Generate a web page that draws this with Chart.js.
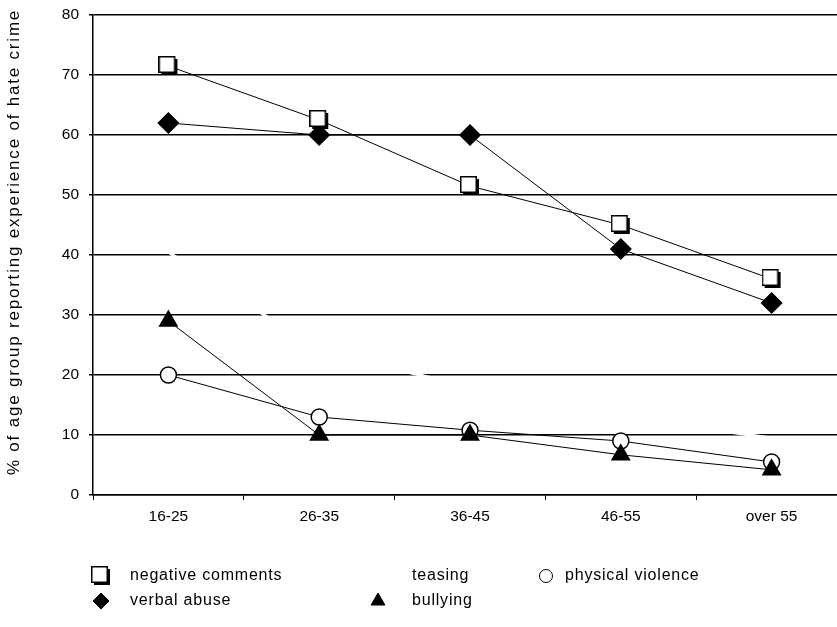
<!DOCTYPE html>
<html lang="en">
<head>
    <meta charset="UTF-8">
    <title>Hate crime by age group</title>
    <!-- Chart.js library -->
    <script src="https://cdn.jsdelivr.net/npm/chart.js"></script>
    <style>
        /* page is cropped on the right, like the original picture */
        body { margin: 0; overflow: hidden; background: #fff; }
        #chartBox { width: 860px; height: 627px; }
    </style>
</head>
<body>
    <div id="chartBox">
        <canvas id="hateChart" width="860" height="627"></canvas>
    </div>

    <script>
        // age groups along the bottom
        const ageGroups = ['16-25', '26-35', '36-45', '46-55', 'over 55'];

        // % of each age group
        const negativeComments = [71.5, 62.5, 51.5, 45, 36];
        const verbalAbuse = [62, 60, 60, 41, 32];
        const teasing = [40.5, 24, 18, 13, 9.5];   // drawn in white, only shows as gaps in the grid
        const bullying = [29, 10, 10, 6.7, 4.2];
        const physicalViolence = [20, 13, 10.8, 9, 5.5];

        const yTicks = [0, 10, 20, 30, 40, 50, 60, 70, 80];
        const yTitle = '% of age group reporting experience of hate crime';

        const FONT = 'Liberation Sans, Arial, sans-serif';

        // white square with a black drop shadow, as in the old excel marker
        function shadowSquare() {
            const c = document.createElement('canvas');
            c.width = 20;
            c.height = 20;
            const g = c.getContext('2d');
            g.fillStyle = '#000';
            g.fillRect(3, 3, 16, 16);
            g.fillStyle = '#fff';
            g.fillRect(1, 1, 15, 15);
            g.strokeStyle = '#000';
            g.lineWidth = 1.5;
            g.strokeRect(0.75, 0.75, 15.5, 15.5);
            return c;
        }
        const squareImg = shadowSquare();

        // legend drawn by hand, two rows like the original
        const legendItems = [
            { text: 'negative comments', style: squareImg, fill: '#fff', x: 101, tx: 130, y: 576 },
            { text: 'teasing', style: null, x: 0, tx: 412, y: 576 },
            { text: 'physical violence', style: 'circle', fill: '#fff', x: 546, tx: 565, y: 576 },
            { text: 'verbal abuse', style: 'rectRot', fill: '#000', x: 101, tx: 130, y: 601 },
            { text: 'bullying', style: 'triangle', fill: '#000', x: 378, tx: 412, y: 601 }
        ];

        const extrasPlugin = {
            id: 'extras',
            afterDraw(chart) {
                const ctx = chart.ctx;
                ctx.save();
                // legend
                ctx.font = '16px ' + FONT;
                ctx.textBaseline = 'middle';
                ctx.letterSpacing = '0.8px';
                legendItems.forEach(item => {
                    if (item.style) {
                        ctx.fillStyle = item.fill;
                        ctx.strokeStyle = '#000';
                        Chart.helpers.drawPoint(ctx, {
                            pointStyle: item.style,
                            radius: item.style === 'circle' ? 6.5 : 8,
                            rotation: 0,
                            borderWidth: 1.5
                        }, item.x, item.y);
                    }
                    ctx.fillStyle = '#000';
                    ctx.textAlign = 'left';
                    ctx.fillText(item.text, item.tx, item.y);
                });
                // y axis title
                ctx.font = '17px ' + FONT;
                ctx.letterSpacing = '1.8px';
                ctx.translate(14, 242);
                ctx.rotate(-Math.PI / 2);
                ctx.textAlign = 'center';
                ctx.fillText(yTitle, 0, 0);
                ctx.restore();
            }
        };

        function line(label, data, style, fill, radius) {
            return {
                label: label,
                data: data,
                borderColor: '#000',
                borderWidth: 1,
                pointStyle: style,
                pointRadius: radius,
                pointBackgroundColor: fill,
                pointBorderColor: '#000',
                pointBorderWidth: 1.5,
                tension: 0,
                order: 1
            };
        }

        const ctx = document.getElementById('hateChart').getContext('2d');
        const hateChart = new Chart(ctx, {
            type: 'line',
            data: {
                labels: ageGroups,
                datasets: [
                    line('negative comments', negativeComments, squareImg, '#fff', 9),
                    line('verbal abuse', verbalAbuse, 'rectRot', '#000', 10),
                    {
                        label: 'teasing',
                        data: teasing,
                        borderColor: '#fff',
                        borderWidth: 3,
                        pointRadius: 0,
                        tension: 0,
                        order: 10
                    },
                    line('bullying', bullying, 'triangle', '#000', 10),
                    line('physical violence', physicalViolence, 'circle', '#fff', 8)
                ]
            },
            options: {
                responsive: false,
                maintainAspectRatio: false,
                animation: false,
                layout: { padding: { top: 15, right: 13, left: 0, bottom: 0 } },
                plugins: {
                    legend: { display: false },
                    tooltip: { enabled: false }
                },
                scales: {
                    x: {
                        offset: true,
                        grid: {
                            offset: true,
                            drawOnChartArea: false,
                            drawTicks: true,
                            tickLength: 5,
                            color: '#000',
                            lineWidth: 1
                        },
                        border: { color: '#000', width: 1.5 },
                        ticks: {
                            color: '#000',
                            font: { family: FONT, size: 15.5 },
                            padding: 7,
                            maxRotation: 0
                        },
                        afterFit(scale) {
                            scale.height = 132;
                            scale.paddingLeft = 0;
                            scale.paddingRight = 0;
                        }
                    },
                    y: {
                        min: 0,
                        max: 80,
                        afterBuildTicks(scale) { scale.ticks = yTicks.map(v => ({ value: v })); },
                        grid: {
                            color: '#000',
                            lineWidth: 1.5,
                            tickLength: 4
                        },
                        border: { color: '#000', width: 1.5 },
                        ticks: {
                            color: '#000',
                            font: { family: FONT, size: 15.5 },
                            padding: 10
                        },
                        afterFit(scale) {
                            scale.width = 93;
                            scale.paddingTop = 0;
                            scale.paddingBottom = 0;
                        }
                    }
                }
            },
            plugins: [extrasPlugin]
        });
    </script>
</body>
</html>
